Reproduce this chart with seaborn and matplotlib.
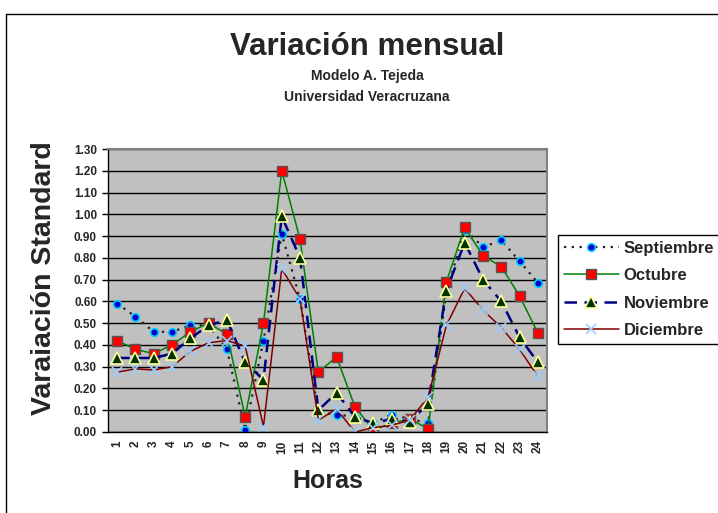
import pandas as pd
import matplotlib
matplotlib.use("Agg")
import matplotlib.pyplot as plt
from matplotlib.lines import Line2D
import seaborn as sns

# Datos
horas = list(range(1, 25))
septiembre = [0.59, 0.53, 0.46, 0.46, 0.49, 0.49, 0.38, 0.01, 0.42, 0.91, 0.61, 0.09,
              0.08, 0.07, 0.04, 0.08, 0.06, 0.04, 0.64, 0.93, 0.85, 0.88, 0.785, 0.685]
octubre = [0.42, 0.38, 0.36, 0.40, 0.46, 0.50, 0.45, 0.07, 0.50, 1.20, 0.885, 0.275,
           0.345, 0.115, 0.01, 0.04, 0.06, 0.015, 0.69, 0.94, 0.81, 0.76, 0.625, 0.455]
noviembre = [0.34, 0.34, 0.34, 0.36, 0.43, 0.49, 0.515, 0.32, 0.24, 0.99, 0.80, 0.10,
             0.18, 0.07, 0.04, 0.06, 0.047, 0.13, 0.65, 0.87, 0.70, 0.60, 0.435, 0.32]
diciembre = [0.275, 0.29, 0.285, 0.30, 0.37, 0.41, 0.42, 0.395, 0.025, 0.75, 0.61, 0.055,
             0.105, 0.00, 0.02, 0.03, 0.055, 0.16, 0.49, 0.66, 0.56, 0.48, 0.38, 0.255]
meses = ["Septiembre", "Octubre", "Noviembre", "Diciembre"]
y_ticks = [round(0.1 * i, 2) for i in range(14)]

estilos = {
    "Septiembre": dict(color="#202020", linestyle=(0, (1, 2.5)), linewidth=1.6, marker="o",
                       markersize=5.5, markerfacecolor="#0000CC", markeredgecolor="#00CCFF",
                       markeredgewidth=1.2),
    "Octubre": dict(color="#008000", linestyle="-", linewidth=1.1, marker="s",
                    markersize=6.5, markerfacecolor="#FF0000", markeredgecolor="#555555",
                    markeredgewidth=1.0),
    "Noviembre": dict(color="#000080", linestyle=(0, (5, 3)), linewidth=1.8, marker="^",
                      markersize=8, markerfacecolor="#003300", markeredgecolor="#FFFF99",
                      markeredgewidth=1.2),
    "Diciembre": dict(color="#800000", linestyle="-", linewidth=1.1, marker="x",
                      markersize=7, markerfacecolor="#99CCFF", markeredgecolor="#99CCFF",
                      markeredgewidth=1.2),
}

df = pd.DataFrame({"Hora": horas, "Septiembre": septiembre, "Octubre": octubre,
                   "Noviembre": noviembre, "Diciembre": diciembre})
largo = df.melt(id_vars="Hora", var_name="Mes", value_name="Valor")

sns.set_style("white")
plt.rcParams["font.family"] = ["Liberation Sans", "DejaVu Sans"]
plt.rcParams["font.weight"] = "bold"

fig = plt.figure(figsize=(7.18, 5.13), dpi=100)
ax = fig.add_axes([108 / 718, 1 - 432 / 513, 439 / 718, 283 / 513])
ax.set_facecolor("#C0C0C0")

for mes in meses:
    sub = largo[largo["Mes"] == mes]
    sns.lineplot(data=sub, x="Hora", y="Valor", ax=ax, label=mes, **estilos[mes])

ax.set_xlim(0.5, 24.5)
ax.set_ylim(0, 1.3)
ax.set_yticks(y_ticks)
ax.set_yticklabels([f"{v:.2f}" for v in y_ticks], fontsize=8.5, fontweight="bold")
ax.set_xticks(horas)
ax.set_xticklabels([str(h) for h in horas], rotation=90, fontsize=8.5, fontweight="bold")
ax.set_xticks([h + 0.5 for h in range(0, 25)], minor=True)
ax.tick_params(axis="x", which="major", length=0, pad=6)
ax.tick_params(axis="x", which="minor", length=4, width=1, color="black", direction="out")
ax.tick_params(axis="y", length=4, width=1, color="black", direction="out", pad=4, left=True)
ax.yaxis.grid(True, color="black", linewidth=1)
ax.set_axisbelow(True)
for lado in ["top", "right"]:
    ax.spines[lado].set_color("#808080")
    ax.spines[lado].set_linewidth(1.5)
for lado in ["left", "bottom"]:
    ax.spines[lado].set_color("black")
    ax.spines[lado].set_linewidth(1)

ax.set_xlabel("")
ax.set_ylabel("")
fig.text(328 / 718, 1 - 481 / 513, "Horas", ha="center", va="center",
         fontsize=18, fontweight="bold")
fig.text(44 / 718, 1 - 278 / 513, "Varaiación Standard", ha="center", va="center",
         rotation=90, fontsize=20.5, fontweight="bold")

leg = ax.legend(loc="upper left", bbox_to_anchor=(558 / 718, 1 - 235 / 513),
                bbox_transform=fig.transFigure, frameon=True, fancybox=False,
                edgecolor="black", framealpha=1, prop=dict(size=12, weight="bold"),
                handlelength=3.3, labelspacing=0.75, borderpad=0.35, handletextpad=0.3,
                borderaxespad=0)
leg.get_frame().set_linewidth(1)

fig.text(367 / 718, 1 - 47 / 513, "Variación mensual", ha="center", va="center",
         fontsize=22.5, fontweight="bold")
fig.text(367 / 718, 1 - 76 / 513, "Modelo A. Tejeda", ha="center", va="center",
         fontsize=10, fontweight="bold")
fig.text(367 / 718, 1 - 97 / 513, "Universidad Veracruzana", ha="center", va="center",
         fontsize=10, fontweight="bold")

# Marco exterior del gráfico
fig.add_artist(Line2D([6 / 718, 1], [1 - 14 / 513, 1 - 14 / 513], transform=fig.transFigure,
                      color="black", linewidth=1))
fig.add_artist(Line2D([6 / 718, 6 / 718], [0, 1 - 14 / 513], transform=fig.transFigure,
                      color="black", linewidth=1))

fig.savefig("out.png", dpi=100)
